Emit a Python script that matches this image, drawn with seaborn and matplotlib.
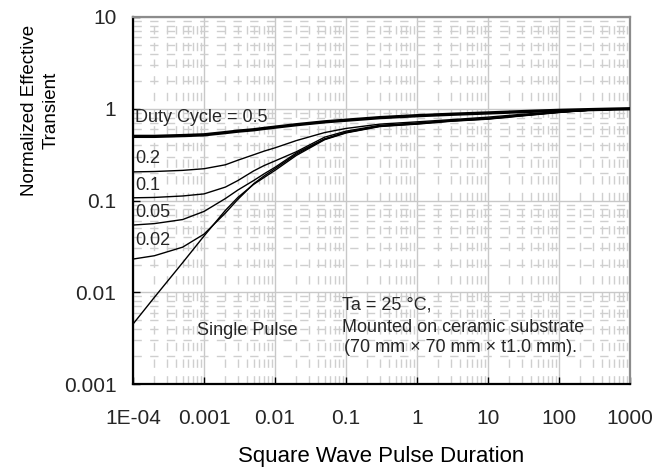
import numpy as np
import pandas as pd
import seaborn as sns
import matplotlib.pyplot as plt
from matplotlib.ticker import FixedLocator, LogLocator, NullFormatter

# pulse duration (x) and normalized effective transient for each duty cycle
pulse = [1e-4, 2e-4, 5e-4, 1e-3, 2e-3, 3e-3, 5e-3, 7e-3, 0.01, 0.02,
         0.05, 0.1, 0.3, 1, 3, 10, 30, 100, 300, 1000]
d_05 = [0.50, 0.50, 0.51, 0.52, 0.55, 0.57, 0.59, 0.61, 0.63, 0.67,
        0.72, 0.75, 0.80, 0.84, 0.87, 0.90, 0.93, 0.96, 0.98, 1.0]
d_02 = [0.205, 0.207, 0.213, 0.222, 0.245, 0.275, 0.315, 0.345, 0.375, 0.45,
        0.55, 0.61, 0.68, 0.72, 0.76, 0.81, 0.87, 0.93, 0.97, 1.0]
d_01 = [0.107, 0.108, 0.112, 0.118, 0.14, 0.165, 0.21, 0.24, 0.27, 0.34,
        0.49, 0.57, 0.66, 0.70, 0.745, 0.79, 0.85, 0.92, 0.97, 1.0]
d_005 = [0.054, 0.056, 0.062, 0.076, 0.105, 0.13, 0.165, 0.195, 0.23, 0.33,
         0.47, 0.555, 0.65, 0.69, 0.74, 0.78, 0.845, 0.92, 0.97, 1.0]
d_002 = [0.023, 0.025, 0.031, 0.043, 0.073, 0.103, 0.152, 0.185, 0.222, 0.32,
         0.465, 0.55, 0.645, 0.685, 0.735, 0.775, 0.84, 0.915, 0.97, 1.0]
single = [0.0045, 0.0088, 0.021, 0.041, 0.078, 0.108, 0.15, 0.178, 0.213, 0.31,
          0.46, 0.545, 0.64, 0.68, 0.73, 0.77, 0.835, 0.91, 0.97, 1.0]

x_ticks = [1e-4, 1e-3, 1e-2, 1e-1, 1, 10, 100, 1000]
x_ticklabels = ['1E-04', '0.001', '0.01', '0.1', '1', '10', '100', '1000']
y_ticks = [1e-3, 1e-2, 1e-1, 1, 10]
y_ticklabels = ['0.001', '0.01', '0.1', '1', '10']

sns.set_theme(style='white')
plt.rcParams['font.family'] = ['Liberation Sans', 'DejaVu Sans']

fig = plt.figure(figsize=(6.69, 4.72), dpi=100)
ax = fig.add_axes([133 / 669, 1 - 384 / 472, 497 / 669, 367 / 472])

series = [(d_05, 2.4), (d_02, 1.0), (d_01, 1.0), (d_005, 1.0), (d_002, 1.0), (single, 1.0)]
for vals, lw in series:
    df = pd.DataFrame({'t': pulse, 'z': vals})
    sns.lineplot(data=df, x='t', y='z', ax=ax, color='black', linewidth=lw, zorder=3)

ax.set_xscale('log')
ax.set_yscale('log')
ax.set_xlim(1e-4, 1000)
ax.set_ylim(1e-3, 10)

ax.xaxis.set_major_locator(FixedLocator(x_ticks))
ax.set_xticklabels(x_ticklabels)
ax.yaxis.set_major_locator(FixedLocator(y_ticks))
ax.set_yticklabels(y_ticklabels)
ax.xaxis.set_minor_locator(LogLocator(base=10, subs=np.arange(2, 10), numticks=20))
ax.yaxis.set_minor_locator(LogLocator(base=10, subs=np.arange(2, 10), numticks=20))
ax.xaxis.set_minor_formatter(NullFormatter())
ax.yaxis.set_minor_formatter(NullFormatter())

ax.tick_params(axis='x', which='major', direction='in', length=5, width=1,
               color='black', labelsize=15, pad=18, bottom=True)
ax.tick_params(axis='y', which='major', direction='in', length=5, width=1,
               color='black', labelsize=15, pad=12, left=True)
ax.tick_params(which='minor', length=0)

ax.grid(which='major', color='#c8c8c8', linewidth=1.0, linestyle='-')
ax.grid(which='minor', color='#cfcfcf', linewidth=1.0, linestyle=(0, (6, 6)))
ax.set_axisbelow(True)

for side in ['left', 'bottom']:
    ax.spines[side].set_color('black')
    ax.spines[side].set_linewidth(1.6)
for side in ['top', 'right']:
    ax.spines[side].set_color('#8c8c8c')
    ax.spines[side].set_linewidth(1.6)

ax.set_xlabel('Square Wave Pulse Duration', fontsize=16, color='black')
ax.xaxis.set_label_coords(0.5, -0.17)
ax.set_ylabel('Normalized Effective\nTransient', fontsize=13.5, color='black',
              multialignment='center', linespacing=1.35)
ax.yaxis.set_label_coords(-0.148, 0.745)

lab = dict(fontsize=13, va='center', ha='left', zorder=4)
ax.text(1.07e-4, 0.81, 'Duty Cycle = 0.5', **lab)
ax.text(1.07e-4, 0.288, '0.2', **lab)
ax.text(1.07e-4, 0.146, '0.1', **lab)
ax.text(1.07e-4, 0.074, '0.05', **lab)
ax.text(1.07e-4, 0.037, '0.02', **lab)
ax.text(7.9e-4, 0.00385, 'Single Pulse', **lab)

ax.text(0.087, 0.00724, 'Ta = 25 °C,', **lab)
ax.text(0.089, 0.00417, 'Mounted on ceramic substrate', **lab)
ax.text(0.094, 0.0025, '(70 mm × 70 mm × t1.0 mm).', **lab)

fig.savefig('out.png', dpi=100)
